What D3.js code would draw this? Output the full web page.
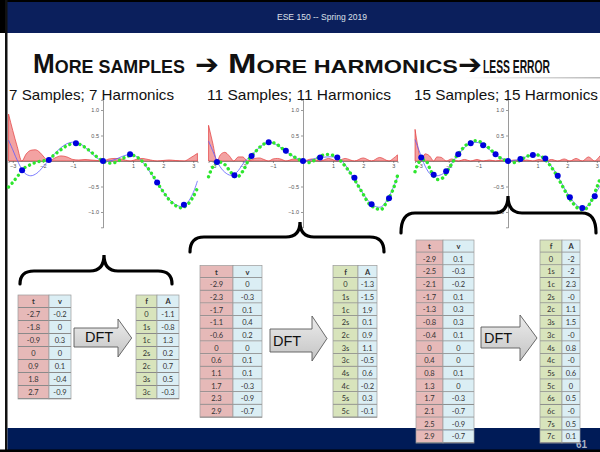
<!DOCTYPE html>
<html>
<head>
<meta charset="UTF-8">
<title>More samples</title>
<script src="https://cdn.jsdelivr.net/npm/d3@7"></script>
<style>
  body { margin: 0; background: #fff; }
  svg { display: block; }
  .ax text { font: 5.5px "Liberation Sans", Arial, sans-serif; fill: #555; }
  .ax path, .ax line { stroke: #555; stroke-width: 0.6; }
  .cell { font: 7.5px Lato, "Liberation Sans", sans-serif; fill: #333; text-anchor: middle; }
</style>
</head>
<body>
<div class="chart"></div>
<script>
// common grid for the curves
const tGrid = [-3.14, -3.0, -2.8, -2.6, -2.4, -2.2, -2.0, -1.8, -1.6, -1.4, -1.2, -1.0, -0.8, -0.6, -0.4, -0.2,
  0, 0.2, 0.4, 0.6, 0.8, 1.0, 1.2, 1.4, 1.6, 1.8, 2.0, 2.2, 2.4, 2.6, 2.8, 3.0, 3.14];

// 7 samples
const green7 = [-0.51, -0.42, -0.27, -0.13, -0.07, -0.02, 0.0, 0.04, 0.13, 0.22, 0.3, 0.34, 0.33, 0.27, 0.18, 0.08,
  0, -0.04, -0.03, 0.03, 0.09, 0.11, 0.05, -0.07, -0.23, -0.42, -0.6, -0.76, -0.87, -0.92, -0.86, -0.7, -0.53];
const blue7 = [0.41, 0.22, -0.05, -0.24, -0.29, -0.24, -0.12, 0.02, 0.15, 0.26, 0.34, 0.37, 0.35, 0.27, 0.16, 0.06,
  0, 0, 0.03, 0.08, 0.12, 0.12, 0.05, -0.08, -0.25, -0.42, -0.6, -0.75, -0.85, -0.89, -0.82, -0.62, -0.39];
const dotT7 = [-2.69, -1.8, -0.9, 0, 0.9, 1.8, 2.69];
const dotV7 = [-0.18, 0.02, 0.35, 0, 0.13, -0.42, -0.86];
const errT7 = [-3.14, -3.0, -2.85, -2.7, -2.55, -2.4, -2.25, -2.1, -1.95, -1.8, -1.6, -1.4, -1.2, -1.0, -0.8, -0.6, -0.4,
  -0.2, 0, 0.2, 0.4, 0.6, 0.9, 1.1, 1.3, 1.5, 1.8, 2.0, 2.2, 2.4, 2.7, 2.9, 3.14];
const errV7 = [0.92, 0.6, 0.28, 0, 0.14, 0.21, 0.22, 0.17, 0.07, 0, 0.06, 0.1, 0.08, 0.03, 0.02, 0.03, 0.02,
  0.01, 0, 0.04, 0.05, 0.04, 0, 0.03, 0.05, 0.03, 0, 0.01, 0.02, 0.01, 0, 0.06, 0.15];

// 11 samples
const green11 = [-0.31, -0.12, -0.02, -0.07, -0.22, -0.32, -0.2, 0.03, 0.17, 0.29, 0.36, 0.36, 0.3, 0.2, 0.12, 0.05,
  0, -0.03, 0.02, 0.1, 0.13, 0.11, 0.03, -0.1, -0.26, -0.45, -0.65, -0.84, -0.92, -0.95, -0.78, -0.55, -0.29];
const blue11 = [0.39, 0.2, -0.07, -0.22, -0.28, -0.22, -0.06, 0.07, 0.18, 0.29, 0.36, 0.35, 0.29, 0.2, 0.12, 0.05,
  0, 0.01, 0.05, 0.07, 0.08, 0.08, 0.05, -0.07, -0.26, -0.45, -0.64, -0.8, -0.89, -0.9, -0.76, -0.52, -0.33];
const dotT11 = [-2.86, -2.28, -1.71, -1.14, -0.57, 0, 0.57, 1.14, 1.71, 2.28, 2.86];
const dotV11 = [-0.02, -0.28, 0.1, 0.37, 0.2, 0, 0.07, 0.07, -0.33, -0.85, -0.73];
const errT11 = [-3.14, -3.0, -2.86, -2.75, -2.6, -2.45, -2.3, -2.15, -2.0, -1.85, -1.6, -1.45, -1.3, -1.14, -1.0, -0.85,
  -0.7, -0.57, -0.3, 0, 0.3, 0.57, 0.85, 1.14, 1.4, 1.71, 2.0, 2.28, 2.55, 2.86, 3.0, 3.14];
const errV11 = [0.7, 0.35, 0, 0.12, 0.17, 0.1, 0, 0.08, 0.08, 0, 0.05, 0.06, 0.03, 0, 0.04, 0.05,
  0.03, 0, 0.04, 0, 0.04, 0, 0.05, 0, 0.05, 0, 0.06, 0, 0.07, 0, 0.05, 0.12];

// 15 samples
const green15 = [-0.21, -0.02, 0.02, -0.2, -0.36, -0.33, -0.15, 0.04, 0.2, 0.32, 0.39, 0.39, 0.33, 0.23, 0.12, 0.04,
  0, -0.03, 0.01, 0.08, 0.12, 0.12, 0.06, -0.07, -0.24, -0.45, -0.66, -0.83, -0.94, -0.95, -0.8, -0.52, -0.3];
const blue15 = [0.42, 0.2, -0.1, -0.27, -0.29, -0.25, -0.13, 0.04, 0.18, 0.3, 0.36, 0.36, 0.3, 0.21, 0.12, 0.05,
  0, 0.01, 0.04, 0.08, 0.12, 0.11, 0.07, -0.05, -0.22, -0.42, -0.63, -0.79, -0.9, -0.91, -0.8, -0.6, -0.45];
const dotT15 = [-2.93, -2.51, -2.09, -1.68, -1.26, -0.84, -0.42, 0, 0.42, 0.84, 1.26, 1.68, 2.09, 2.51, 2.93];
const dotV15 = [0.07, -0.27, -0.2, 0.13, 0.35, 0.31, 0.13, 0, 0.04, 0.12, 0.05, -0.29, -0.71, -0.92, -0.69];
const errT15 = [-3.14, -3.05, -2.93, -2.8, -2.65, -2.51, -2.4, -2.25, -2.09, -1.9, -1.68, -1.47, -1.26, -1.05, -0.84,
  -0.63, -0.42, -0.2, 0, 0.2, 0.42, 0.63, 0.84, 1.05, 1.26, 1.47, 1.68, 1.9, 2.09, 2.3, 2.51, 2.72, 2.93, 3.05, 3.14];
const errV15 = [0.62, 0.3, 0, 0.14, 0.1, 0, 0.08, 0.07, 0, 0.04, 0, 0.03, 0, 0.03, 0,
  0.02, 0, 0.02, 0, 0.02, 0, 0.02, 0, 0.03, 0, 0.03, 0, 0.04, 0, 0.05, 0, 0.08, 0, 0.06, 0.12];

// tables
const tab7t = ["-2.7", "-1.8", "-0.9", "0", "0.9", "1.8", "2.7"];
const tab7v = ["-0.2", "0", "0.3", "0", "0.1", "-0.4", "-0.9"];
const tab7f = ["0", "1s", "1c", "2s", "2c", "3s", "3c"];
const tab7a = ["-1.1", "-0.8", "1.3", "0.2", "0.7", "0.5", "-0.3"];
const tab11t = ["-2.9", "-2.3", "-1.7", "-1.1", "-0.6", "0", "0.6", "1.1", "1.7", "2.3", "2.9"];
const tab11v = ["0", "-0.3", "0.1", "0.4", "0.2", "0", "0.1", "0.1", "-0.3", "-0.9", "-0.7"];
const tab11f = ["0", "1s", "1c", "2s", "2c", "3s", "3c", "4s", "4c", "5s", "5c"];
const tab11a = ["-1.3", "-1.5", "1.9", "0.1", "0.9", "1.1", "-0.5", "0.6", "-0.2", "0.3", "-0.1"];
const tab15t = ["-2.9", "-2.5", "-2.1", "-1.7", "-1.3", "-0.8", "-0.4", "0", "0.4", "0.8", "1.3", "1.7", "2.1", "2.5", "2.9"];
const tab15v = ["0.1", "-0.3", "-0.2", "0.1", "0.3", "0.3", "0.1", "0", "0", "0.1", "0", "-0.3", "-0.7", "-0.9", "-0.7"];
const tab15f = ["0", "1s", "1c", "2s", "2c", "3s", "3c", "4s", "4c", "5s", "5c", "6s", "6c", "7s", "7c"];
const tab15a = ["-2", "-2", "2.3", "-0", "1.1", "1.5", "-0", "0.8", "-0", "0.6", "0", "0.5", "-0", "0.5", "0.1"];

const W = 600, H = 452;
const svg = d3.select('.chart').append('svg').attr('width', W).attr('height', H);

const defs = svg.append('defs');
const gArrow = defs.append('linearGradient').attr('id', 'arrowFill').attr('x1', 0).attr('y1', 0).attr('x2', 0).attr('y2', 1);
gArrow.append('stop').attr('offset', '0%').attr('stop-color', '#ececec');
gArrow.append('stop').attr('offset', '100%').attr('stop-color', '#c4c4c4');
const gLine = defs.append('linearGradient').attr('id', 'ruleFill');
gLine.append('stop').attr('offset', '0%').attr('stop-color', '#fff');
gLine.append('stop').attr('offset', '100%').attr('stop-color', '#b8b8b8');

// slide frame
svg.append('rect').attr('width', W).attr('height', 33).attr('fill', '#0b1f5c');
svg.append('rect').attr('width', W).attr('height', 2).attr('fill', '#000');
svg.append('rect').attr('x', 0).attr('width', 5).attr('height', 33).attr('fill', '#000');
svg.append('rect').attr('x', 5).attr('width', 2.5).attr('height', H).attr('fill', '#111');
svg.append('rect').attr('x', 7.5).attr('y', 428).attr('width', W).attr('height', 24).attr('fill', '#001b57');
svg.append('rect').attr('x', 0).attr('y', 449.5).attr('width', W).attr('height', 3).attr('fill', '#000');
svg.append('text').attr('x', 277).attr('y', 20).attr('textLength', 90).attr('lengthAdjust', 'spacingAndGlyphs')
  .style('font', '9px "Liberation Sans", Arial, sans-serif').attr('fill', '#dde0ea').text('ESE 150 -- Spring 2019');
svg.append('text').attr('x', 576).attr('y', 448).style('font', 'bold 10px "Liberation Sans", Arial, sans-serif')
  .attr('fill', '#aab3c6').text('61');

// title in small caps
svg.append('rect').attr('x', 465).attr('y', 77).attr('width', 135).attr('height', 1.5).attr('fill', 'url(#ruleFill)');
const titleFont = '"Liberation Sans", Arial, sans-serif';
function smallCaps(x, width, parts) {
  const t = svg.append('text').attr('x', x).attr('y', 73).attr('textLength', width)
    .attr('lengthAdjust', 'spacingAndGlyphs').style('font-family', titleFont).style('font-weight', 'bold').attr('fill', '#111');
  parts.forEach(p => t.append('tspan').style('font-size', p[1] + 'px').text(p[0]));
}
smallCaps(33, 152, [['M', 27], ['ORE SAMPLES', 18.5]]);
smallCaps(228, 230, [['M', 27], ['ORE HARMONICS', 18.5]]);
smallCaps(483, 67, [['LESS ERROR', 17.5]]);
[195, 458].forEach(x => svg.append('text').attr('x', x).attr('y', 74).attr('textLength', 24)
  .attr('lengthAdjust', 'spacingAndGlyphs').style('font', 'bold 28px "DejaVu Sans", sans-serif').attr('fill', '#111').text('➔'));

// plots
const y = d3.scaleLinear().domain([-1.3, 1.2]).range([227.3, 99.8]);
const panels = [
  { r: [8.5, 197.5], label: '7 Samples; 7 Harmonics', lx: 9, lw: 165, green: green7, blue: blue7, dt: dotT7, dv: dotV7, et: errT7, ev: errV7 },
  { r: [208.5, 397.5], label: '11 Samples; 11 Harmonics', lx: 207, lw: 184, green: green11, blue: blue11, dt: dotT11, dv: dotV11, et: errT11, ev: errV11 },
  { r: [415, 601], label: '15 Samples; 15 Harmonics', lx: 414, lw: 184, green: green15, blue: blue15, dt: dotT15, dv: dotV15, et: errT15, ev: errV15 }
];

panels.forEach(p => {
  const x = d3.scaleLinear().domain([-Math.PI, Math.PI]).range(p.r);
  const g = svg.append('g');

  const area = d3.area().x(d => x(d[0])).y0(y(0)).y1(d => y(d[1])).curve(d3.curveMonotoneX);
  g.append('path').datum(d3.zip(p.et, p.ev)).attr('d', area)
    .attr('fill', '#f3a2a2').attr('stroke', '#e23b3b').attr('stroke-width', 0.7);

  g.append('g').attr('class', 'ax').attr('transform', `translate(0,${y(0)})`)
    .call(d3.axisBottom(x).tickValues([-3, -2, -1, 1, 2, 3]).tickFormat(d3.format('d')).tickSize(2).tickPadding(1.5));
  g.append('g').attr('class', 'ax').attr('transform', `translate(${x(0)},0)`)
    .call(d3.axisLeft(y).tickValues([-1, -0.5, 0.5, 1]).tickFormat(d3.format('.1f')).tickSize(2).tickPadding(2));

  const line = d3.line().x((d, i) => x(tGrid[i])).y(d => y(d)).curve(d3.curveCatmullRom);
  g.append('path').datum(p.blue).attr('d', line).attr('fill', 'none').attr('stroke', '#5a5aff').attr('stroke-width', 0.8);
  g.append('path').datum(p.green).attr('d', line).attr('fill', 'none').attr('stroke', '#2ee62e')
    .attr('stroke-width', 3.4).attr('stroke-dasharray', '0.1 5').attr('stroke-linecap', 'round');
  g.selectAll('circle').data(d3.zip(p.dt, p.dv)).enter().append('circle')
    .attr('cx', d => x(d[0])).attr('cy', d => y(d[1])).attr('r', 3).attr('fill', '#0000dd');

  svg.append('text').attr('x', p.lx).attr('y', 100).attr('textLength', p.lw).attr('lengthAdjust', 'spacingAndGlyphs')
    .style('font', '15px "Liberation Sans", Arial, sans-serif').attr('fill', '#111').text(p.label);
});

// braces
const braces = [
  { x0: 20, x1: 172, xm: 104, yb: 284, yh: 271, yt: 255 },
  { x0: 190, x1: 384, xm: 300, yb: 252, yh: 237, yt: 222 },
  { x0: 401, x1: 596, xm: 508, yb: 233, yh: 213, yt: 196 }
];
braces.forEach(b => {
  const r = 14;
  const d = `M${b.x0},${b.yb} Q${b.x0},${b.yh} ${b.x0 + r},${b.yh} L${b.xm - r},${b.yh} Q${b.xm},${b.yh} ${b.xm},${b.yt}` +
    ` Q${b.xm},${b.yh} ${b.xm + r},${b.yh} L${b.x1 - r},${b.yh} Q${b.x1},${b.yh} ${b.x1},${b.yb}`;
  svg.append('path').attr('d', d).attr('fill', 'none').attr('stroke', '#000').attr('stroke-width', 3.2).attr('stroke-linecap', 'round');
});

// DFT block arrows
const arrows = [
  { bx: 74, hx: 118, tip: 131.7, by0: 328, by1: 347, hy0: 319, hy1: 357, tx: 99, ty: 341.5 },
  { bx: 270, hx: 312, tip: 327, by0: 329, by1: 352, hy0: 316, hy1: 361, tx: 287, ty: 346 },
  { bx: 481, hx: 520, tip: 537, by0: 327, by1: 348, hy0: 315, hy1: 361, tx: 498, ty: 343 }
];
arrows.forEach(a => {
  const my = (a.hy0 + a.hy1) / 2;
  svg.append('path').attr('d', `M${a.bx},${a.by0} L${a.hx},${a.by0} L${a.hx},${a.hy0} L${a.tip},${my} L${a.hx},${a.hy1} L${a.hx},${a.by1} L${a.bx},${a.by1} Z`)
    .attr('fill', 'url(#arrowFill)').attr('stroke', '#5a5a5a').attr('stroke-width', 0.9);
  svg.append('text').attr('x', a.tx).attr('y', a.ty).attr('text-anchor', 'middle')
    .style('font', '14.5px "Liberation Sans", Arial, sans-serif').attr('fill', '#111').text('DFT');
});

// sample / coefficient tables
function drawTable(x, top, rowH, cols) {
  const g = svg.append('g');
  let cx = x;
  cols.forEach(c => {
    const rows = [c.head].concat(c.values);
    rows.forEach((v, i) => {
      const ry = top + i * rowH;
      g.append('rect').attr('x', cx).attr('y', ry).attr('width', c.w).attr('height', rowH).attr('fill', c.fill);
      g.append('line').attr('x1', cx).attr('x2', cx + c.w).attr('y1', ry + rowH - 0.5).attr('y2', ry + rowH - 0.5)
        .attr('stroke', '#8a8a8a').attr('stroke-width', 1);
      g.append('text').attr('class', 'cell').attr('x', cx + c.w / 2).attr('y', ry + rowH / 2 + 2.7)
        .style('font-weight', i === 0 ? 'bold' : 'normal').attr('fill', i === 0 ? c.headColor : '#333').text(v);
    });
    g.append('rect').attr('x', cx).attr('y', top).attr('width', c.w).attr('height', rows.length * rowH)
      .attr('fill', 'none').attr('stroke', '#9a9a9a').attr('stroke-width', 0.7);
    cx += c.w;
  });
}
const pink = '#e6b9b8', ice = '#dbeef4', olive = '#d8e4bc';
drawTable(18, 295, 13, [
  { w: 31, head: 't', headColor: '#c00000', fill: pink, values: tab7t },
  { w: 22, head: 'v', headColor: '#31859c', fill: ice, values: tab7v }]);
drawTable(136, 295, 13, [
  { w: 21, head: 'f', headColor: '#333', fill: olive, values: tab7f },
  { w: 22, head: 'A', headColor: '#31859c', fill: ice, values: tab7a }]);
drawTable(200, 265.5, 12.67, [
  { w: 33, head: 't', headColor: '#c00000', fill: pink, values: tab11t },
  { w: 29, head: 'v', headColor: '#31859c', fill: ice, values: tab11v }]);
drawTable(333, 265.5, 12.67, [
  { w: 25, head: 'f', headColor: '#333', fill: olive, values: tab11f },
  { w: 19, head: 'A', headColor: '#31859c', fill: ice, values: tab11a }]);
drawTable(416, 240, 12.69, [
  { w: 27, head: 't', headColor: '#c00000', fill: pink, values: tab15t },
  { w: 31, head: 'v', headColor: '#31859c', fill: ice, values: tab15v }]);
drawTable(540, 240, 12.69, [
  { w: 22, head: 'f', headColor: '#333', fill: olive, values: tab15f },
  { w: 18, head: 'A', headColor: '#31859c', fill: ice, values: tab15a }]);
</script>
</body>
</html>
